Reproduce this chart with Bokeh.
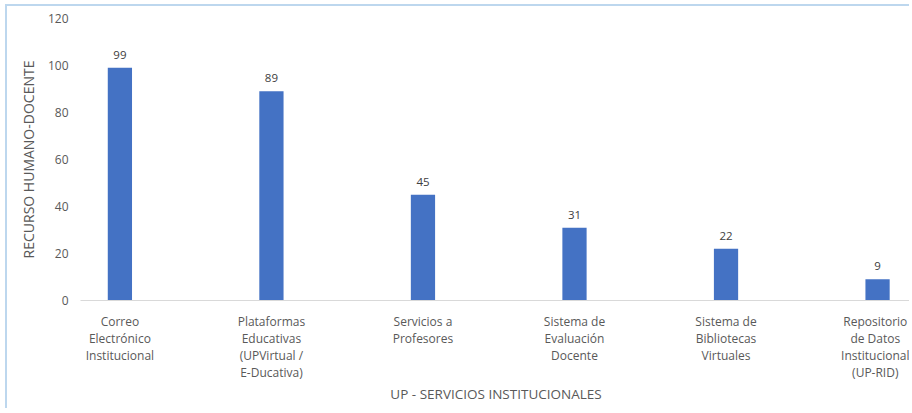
from bokeh.plotting import figure
from bokeh.models import ColumnDataSource, Range1d, FixedTicker
from bokeh.core.properties import value
from bokeh.embed import file_html
from bokeh.resources import INLINE

# ---- data ----
categories = [
    "Correo\nElectrónico\nInstitucional",
    "Plataformas\nEducativas\n(UPVirtual /\nE-Ducativa)",
    "Servicios a\nProfesores",
    "Sistema de\nEvaluación\nDocente",
    "Sistema de\nBibliotecas\nVirtuales",
    "Repositorio\nde Datos\nInstitucional\n(UP-RID)",
]
values = [99, 89, 45, 31, 22, 9]
y_ticks = [0, 20, 40, 60, 80, 100, 120]
y_title = "RECURSO HUMANO-DOCENTE"
x_title = "UP - SERVICIOS INSTITUCIONALES"

FONT = "Open Sans"
positions = list(range(len(categories)))
source = ColumnDataSource(dict(x=positions, top=values, label=[str(v) for v in values]))

p = figure(width=904, height=404, output_backend="svg", toolbar_location=None,
           x_range=Range1d(-0.26, 5.224), y_range=Range1d(0, 120),
           min_border_left=73, min_border_right=0, min_border_top=12, min_border_bottom=110)
p.styles = {"margin-left": "5px", "margin-top": "4px",
            "border-left": "2px solid #BDD7EE", "border-top": "2px solid #BDD7EE"}
p.outline_line_color = None
p.background_fill_color = "white"
p.border_fill_color = "white"
p.xgrid.visible = False
p.ygrid.visible = False

p.vbar(x="x", top="top", width=0.16, bottom=0, source=source,
       fill_color="#4472C4", line_color=None)
p.text(x="x", y="top", text="label", source=source, text_align="center",
       text_baseline="bottom", y_offset=-9, text_font=value(FONT),
       text_font_size="11.5px", text_color="#404040")

# x axis
xa = p.xaxis[0]
xa.ticker = FixedTicker(ticks=positions)
xa.major_label_overrides = {i: c for i, c in zip(positions, categories)}
xa.major_tick_line_color = None
xa.minor_tick_line_color = None
xa.major_tick_out = 0
xa.major_tick_in = 0
xa.axis_line_color = "#D9D9D9"
xa.axis_line_width = 1
xa.major_label_standoff = 12
xa.major_label_text_font = FONT
xa.major_label_text_font_size = "12px"
xa.major_label_text_color = "#595959"
xa.major_label_text_line_height = 1.0
xa.axis_label = x_title
xa.axis_label_text_font = FONT
xa.axis_label_text_font_size = "13.5px"
xa.axis_label_text_font_style = "normal"
xa.axis_label_text_color = "#595959"
xa.axis_label_standoff = 1

# y axis
ya = p.yaxis[0]
ya.ticker = FixedTicker(ticks=y_ticks)
ya.major_tick_line_color = None
ya.minor_tick_line_color = None
ya.major_tick_out = 0
ya.major_tick_in = 0
ya.axis_line_color = None
ya.major_label_standoff = 12
ya.major_label_text_font = FONT
ya.major_label_text_font_size = "12px"
ya.major_label_text_color = "#595959"
ya.axis_label = y_title
ya.axis_label_text_font = FONT
ya.axis_label_text_font_size = "14px"
ya.axis_label_text_font_style = "normal"
ya.axis_label_text_color = "#595959"
ya.axis_label_standoff = 7

open("out.html", "w").write(file_html(p, INLINE))
